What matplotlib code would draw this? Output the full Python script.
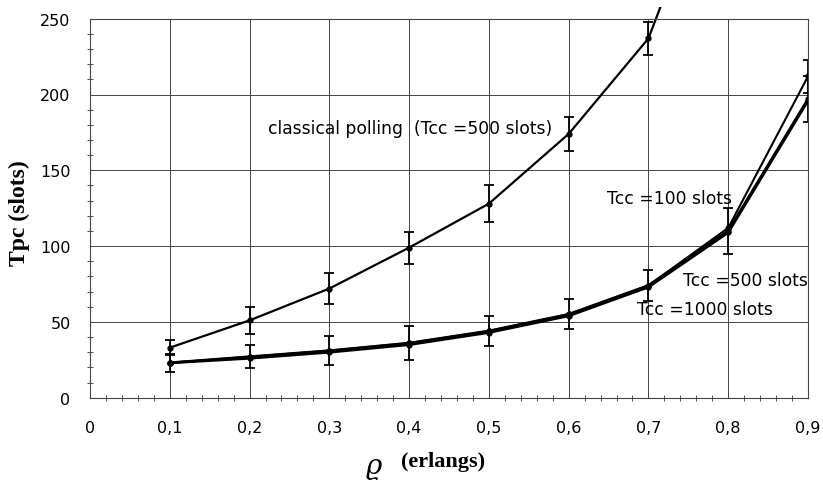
import matplotlib
matplotlib.use("Agg")
import matplotlib.pyplot as plt
from matplotlib.patches import Rectangle
from matplotlib.ticker import MultipleLocator, FuncFormatter

# ---- data ----
rho = [0.1, 0.2, 0.3, 0.4, 0.5, 0.6, 0.7, 0.8, 0.9]
classical_x = [0.1, 0.2, 0.3, 0.4, 0.5, 0.6, 0.7, 0.8]
classical_y = [33, 51, 72, 99, 128, 174, 237, 375]
classical_err = [5, 9, 10, 10.5, 12, 11, 11, 0]
tcc100_y = [23, 27, 31, 36, 44, 55, 74, 112, 212]
tcc500_y = [23, 27, 31, 36, 44, 55, 74, 110, 197]
tcc1000_y = [23, 26, 30, 35, 43, 54, 73, 109, 196]
lower_err = [6, 7.5, 9.5, 11, 10, 10, 10, 15, 15]
tcc100_err = [0, 0, 0, 0, 0, 0, 0, 0, 11]

x_ticks = [0, 0.1, 0.2, 0.3, 0.4, 0.5, 0.6, 0.7, 0.8, 0.9]
y_ticks = [0, 50, 100, 150, 200, 250]

fig = plt.figure(figsize=(8.23, 4.89), dpi=100)
ax = fig.add_axes([90/823, 1-398.7/489, (808-90)/823, (398.7-19.7)/489])

ax.set_xlim(0, 0.9)
ax.set_ylim(0, 250)

# grid
ax.set_xticks(x_ticks)
ax.set_yticks(y_ticks)
ax.grid(True, color="#444444", linewidth=0.7)
ax.xaxis.set_minor_locator(MultipleLocator(0.02))
ax.yaxis.set_minor_locator(MultipleLocator(10))
ax.tick_params(which="major", length=0, labelsize=11.5)
ax.tick_params(axis="x", which="major", pad=16)
ax.tick_params(axis="y", which="major", pad=14)
ax.tick_params(which="minor", direction="inout", length=4, width=0.6, color="#333333")
ax.xaxis.set_major_formatter(FuncFormatter(lambda v, p: ("%g" % round(v, 2)).replace(".", ",")))
for lab in ax.get_xticklabels() + ax.get_yticklabels():
    lab.set_fontfamily("DejaVu Sans")
for s in ax.spines.values():
    s.set_color("#444444")
    s.set_linewidth(0.8)

clip = Rectangle((0, 0), 1, 1.03, transform=ax.transAxes, facecolor="none", edgecolor="none")
ax.add_patch(clip)

# classical polling
ln, = ax.plot(classical_x, classical_y, color="black", lw=1.6, marker="o", ms=3.5)
ln.set_clip_path(clip)
ax.errorbar(classical_x[:7], classical_y[:7], yerr=classical_err[:7], fmt="none",
            ecolor="black", elinewidth=1.3, capsize=3.5, capthick=1.3)

# Tcc series
ax.plot(rho, tcc100_y, color="black", lw=1.5, marker="o", ms=3.5)
ax.plot(rho, tcc500_y, color="black", lw=2.0, marker="o", ms=3.5)
ax.plot(rho, tcc1000_y, color="black", lw=2.0, marker="o", ms=3.5)
ax.errorbar(rho, tcc500_y, yerr=lower_err, fmt="none", ecolor="black",
            elinewidth=1.3, capsize=3.5, capthick=1.3)
ax.errorbar(rho[-1:], tcc100_y[-1:], yerr=tcc100_err[-1:], fmt="none", ecolor="black",
            elinewidth=1.3, capsize=3.5, capthick=1.3)

# annotations
tf = dict(fontsize=12.3, family="DejaVu Sans", va="center", ha="left")
ax.text(0.223, 178, "classical polling  (Tcc =500 slots)", **tf)
ax.text(0.648, 132, "Tcc =100 slots", **tf)
ax.text(0.743, 77.5, "Tcc =500 slots", **tf)
ax.text(0.686, 58.5, "Tcc =1000 slots", **tf)

# axis labels
fig.text(19/823, 1-213/489, "Tpc (slots)", rotation=90, ha="center", va="center",
         fontsize=17, fontweight="bold", family="Liberation Serif")
fig.text(374/823, 1-467/489, "\u03f1", ha="center", va="center", fontsize=20,
         family="DejaVu Serif", style="italic")
fig.text(443/823, 1-462/489, "(erlangs)", ha="center", va="center",
         fontsize=16, fontweight="bold", family="Liberation Serif")

fig.savefig("out.png", dpi=100)
